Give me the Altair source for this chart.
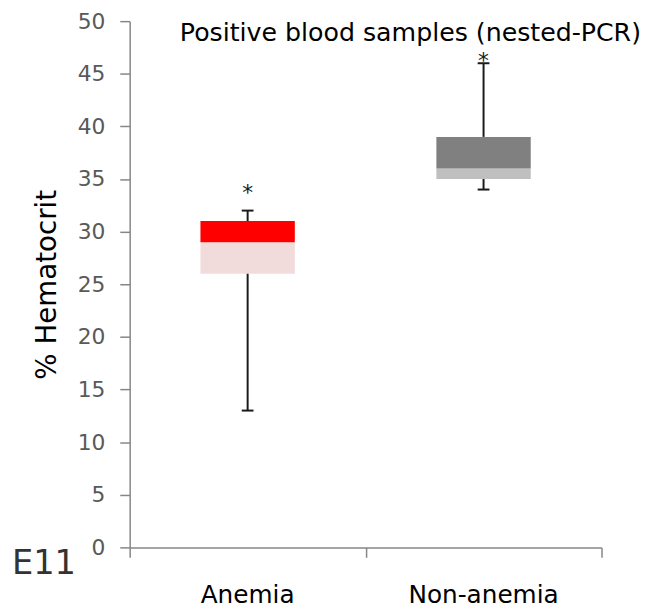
import altair as alt
import pandas as pd

categories = ["Anemia", "Non-anemia"]
whisker_low = [13, 34]
q1 = [26, 35]
median = [29, 36]
q3 = [31, 39]
whisker_high = [32, 46]
outlier_marks = [34.2, 46.8]
light_colors = ["#f2dcdb", "#bfbfbf"]
dark_colors = ["#ff0000", "#808080"]

y_ticks = list(range(0, 51, 5))
chart_title = "Positive blood samples (nested-PCR)"
panel_tag = "E11"
y_title = "% Hematocrit"

FONT = "DejaVu Sans"
BOX_HALF = 0.2
CAP_HALF = 0.025

df = pd.DataFrame({
    "cat": categories,
    "pos": [i + 0.5 for i in range(len(categories))],
    "lo": whisker_low, "q1": q1, "med": median, "q3": q3, "hi": whisker_high,
    "star": outlier_marks,
    "light": light_colors, "dark": dark_colors,
})
df["bx0"] = df["pos"] - BOX_HALF
df["bx1"] = df["pos"] + BOX_HALF
df["cx0"] = df["pos"] - CAP_HALF
df["cx1"] = df["pos"] + CAP_HALF

xscale = alt.Scale(domain=[0, 2], nice=False, zero=False)
yscale = alt.Scale(domain=[0, 50], nice=False)

base = alt.Chart(df)

x_axis = alt.Axis(values=[0, 1, 2], labels=False, title=None, tickSize=10,
                  domainColor="#868686", tickColor="#868686", grid=False,
                  domainWidth=1.5, tickWidth=1.5)
y_axis = alt.Axis(values=y_ticks, title=y_title, tickSize=10, labelPadding=15,
                  labelFontSize=22, labelColor="#595959", labelFont=FONT,
                  titleFont=FONT, titleFontSize=28, titleFontWeight="normal",
                  titleColor="#000000", titlePadding=16,
                  domainColor="#868686", tickColor="#868686", grid=False,
                  domainWidth=1.5, tickWidth=1.5)

low_box = base.mark_bar().encode(
    x=alt.X("bx0:Q", scale=xscale, axis=x_axis),
    x2="bx1:Q",
    y=alt.Y("q1:Q", scale=yscale, axis=y_axis),
    y2="med:Q",
    color=alt.Color("light:N", scale=None),
)
high_box = base.mark_bar().encode(
    x="bx0:Q", x2="bx1:Q", y="med:Q", y2="q3:Q",
    color=alt.Color("dark:N", scale=None),
)
whisk_up = base.mark_rule(color="#1a1a1a", strokeWidth=2).encode(
    x="pos:Q", y="q3:Q", y2="hi:Q")
whisk_down = base.mark_rule(color="#1a1a1a", strokeWidth=2).encode(
    x="pos:Q", y="lo:Q", y2="q1:Q")
cap_up = base.mark_rule(color="#1a1a1a", strokeWidth=2).encode(
    x="cx0:Q", x2="cx1:Q", y="hi:Q")
cap_down = base.mark_rule(color="#1a1a1a", strokeWidth=2).encode(
    x="cx0:Q", x2="cx1:Q", y="lo:Q")
stars = base.mark_text(text="*", font=FONT, fontSize=22, color="#1a1a1a",
                       baseline="middle", dy=6).encode(x="pos:Q", y="star:Q")
xlabels = base.mark_text(font=FONT, fontSize=25, color="#000000",
                         baseline="middle").encode(
    x="pos:Q", y=alt.datum(-4.5), text="cat:N")

title_df = pd.DataFrame({"t": [chart_title]})
title_mark = alt.Chart(title_df).mark_text(
    font=FONT, fontSize=25.5, color="#000000", baseline="middle", align="center"
).encode(x=alt.datum(1.19), y=alt.datum(48.9), text="t:N")

tag_df = pd.DataFrame({"t": [panel_tag]})
tag_mark = alt.Chart(tag_df).mark_text(
    font=FONT, fontSize=34, color="#333333", baseline="middle", align="left"
).encode(x=alt.value(-119), y=alt.value(549), text="t:N")

chart = alt.layer(low_box, high_box, whisk_up, whisk_down, cap_up, cap_down,
                  stars, xlabels, title_mark, tag_mark).properties(
    width=477, height=532,
    autosize=alt.AutoSizeParams(type="none"),
    padding={"left": 123, "top": 10, "right": 48, "bottom": 60},
).configure_view(stroke=None)

chart.save("out.html", embed_options={"renderer": "svg", "actions": False})
